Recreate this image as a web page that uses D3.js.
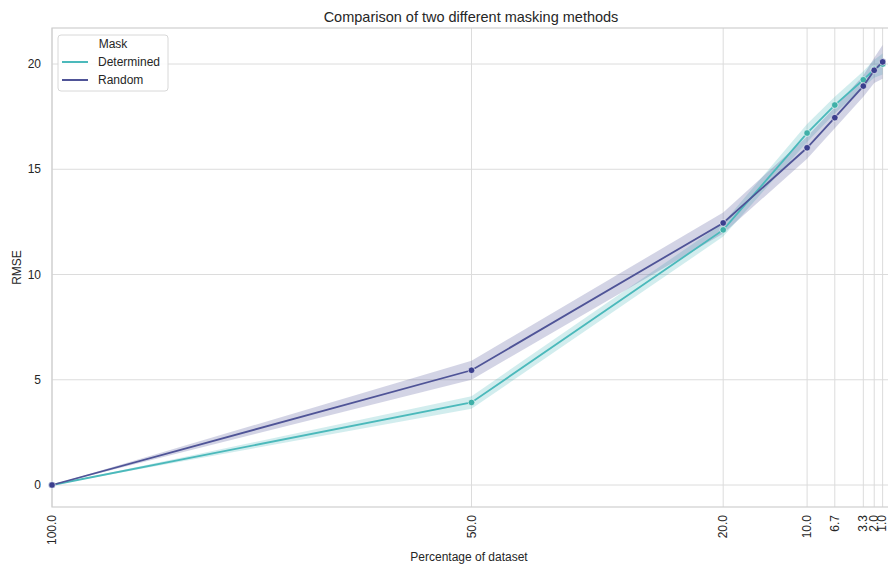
<!DOCTYPE html>
<html>
<head>
<meta charset="utf-8">
<script src="https://cdn.jsdelivr.net/npm/d3@7"></script>
<style>
  body { margin: 0; background: #fff; }
  text { font-family: "Liberation Sans", Arial, sans-serif; fill: #262626; }
</style>
</head>
<body>
<div id="chart"></div>
<script>
// data
const pct = [100.0, 50.0, 20.0, 10.0, 6.7, 3.3, 2.0, 1.0];
const tickLabels = ["100.0", "50.0", "20.0", "10.0", "6.7", "3.3", "2.0", "1.0"];
const determined = [0, 3.92, 12.12, 16.72, 18.05, 19.25, 19.75, 20.0];
const detLow  = [0, 3.62, 11.8, 16.3, 17.65, 18.9, 19.35, 19.5];
const detHigh = [0, 4.22, 12.45, 17.15, 18.45, 19.65, 20.2, 20.5];
const random = [0, 5.45, 12.45, 16.02, 17.45, 18.95, 19.7, 20.1];
const randLow  = [0, 5.0, 11.95, 15.5, 16.95, 18.45, 19.1, 19.3];
const randHigh = [0, 5.9, 12.95, 16.55, 17.95, 19.45, 20.3, 20.9];
const yTicks = [0, 5, 10, 15, 20];

const W = 888, H = 569;
const mLeft = 52, mRight = 891, mTop = 28, mBottom = 507;

const svg = d3.select("#chart").append("svg")
  .attr("width", W).attr("height", H);

const x = d3.scaleLinear().domain([100, 0]).range([mLeft, mRight]);
const y = d3.scaleLinear().domain([0, 20]).range([485, 64]);

const gridColor = "#dcdcdc";

// grid
svg.append("g").selectAll("line").data(yTicks).join("line")
  .attr("x1", mLeft).attr("x2", mRight)
  .attr("y1", d => y(d)).attr("y2", d => y(d))
  .attr("stroke", gridColor).attr("stroke-width", 1);
svg.append("g").selectAll("line").data(pct).join("line")
  .attr("x1", d => x(d)).attr("x2", d => x(d))
  .attr("y1", mTop).attr("y2", mBottom)
  .attr("stroke", gridColor).attr("stroke-width", 1);

// frame
svg.append("rect")
  .attr("x", mLeft).attr("y", mTop)
  .attr("width", mRight - mLeft).attr("height", mBottom - mTop)
  .attr("fill", "none").attr("stroke", "#cfcfcf").attr("stroke-width", 1.2);

const series = [
  { name: "Determined", vals: determined, lo: detLow, hi: detHigh,
    line: "#4bb9bb", band: "rgba(75,185,187,0.25)", dot: "#3fb0a8" },
  { name: "Random", vals: random, lo: randLow, hi: randHigh,
    line: "#4f5497", band: "rgba(79,84,151,0.25)", dot: "#3b3f8e" }
];

const area = d3.area()
  .x((d, i) => x(pct[i]))
  .y0(d => y(d[0])).y1(d => y(d[1]));
const line = d3.line()
  .x((d, i) => x(pct[i]))
  .y(d => y(d));

series.forEach(s => {
  svg.append("path")
    .datum(s.lo.map((v, i) => [v, s.hi[i]]))
    .attr("d", area)
    .attr("fill", s.band);
});
series.forEach(s => {
  svg.append("path")
    .datum(s.vals)
    .attr("d", line)
    .attr("fill", "none")
    .attr("stroke", s.line)
    .attr("stroke-width", 1.8);
  svg.append("g").selectAll("circle").data(s.vals).join("circle")
    .attr("cx", (d, i) => x(pct[i]))
    .attr("cy", d => y(d))
    .attr("r", 3.3)
    .attr("fill", s.dot)
    .attr("stroke", "#fff").attr("stroke-width", 0.6);
});

// y tick labels
svg.append("g").selectAll("text").data(yTicks).join("text")
  .attr("x", 41).attr("y", d => y(d))
  .attr("dy", "0.35em")
  .attr("text-anchor", "end")
  .attr("font-size", 12)
  .text(d => d);

// x tick labels (rotated)
svg.append("g").selectAll("text").data(pct).join("text")
  .attr("transform", d => `translate(${Math.min(x(d) + 4, 886)},${mBottom + 8}) rotate(-90)`)
  .attr("text-anchor", "end")
  .attr("font-size", 12)
  .text((d, i) => tickLabels[i]);

// titles
svg.append("text")
  .attr("x", 471).attr("y", 22)
  .attr("text-anchor", "middle").attr("font-size", 14.5)
  .text("Comparison of two different masking methods");
svg.append("text")
  .attr("x", 469).attr("y", 561)
  .attr("text-anchor", "middle").attr("font-size", 12)
  .text("Percentage of dataset");
svg.append("text")
  .attr("transform", `translate(21,${(mTop + mBottom) / 2}) rotate(-90)`)
  .attr("text-anchor", "middle").attr("font-size", 12)
  .text("RMSE");

// legend
const lg = svg.append("g").attr("transform", "translate(58,35)");
lg.append("rect")
  .attr("width", 110).attr("height", 56).attr("rx", 3)
  .attr("fill", "rgba(255,255,255,0.85)")
  .attr("stroke", "#d8d8d8");
lg.append("text").attr("x", 55).attr("y", 13)
  .attr("text-anchor", "middle").attr("font-size", 12).text("Mask");
series.forEach((s, i) => {
  const yy = 27 + i * 18;
  lg.append("line")
    .attr("x1", 4).attr("x2", 30).attr("y1", yy).attr("y2", yy)
    .attr("stroke", s.line).attr("stroke-width", 2);
  lg.append("text").attr("x", 40).attr("y", yy).attr("dy", "0.35em")
    .attr("font-size", 12).text(s.name);
});
</script>
</body>
</html>
